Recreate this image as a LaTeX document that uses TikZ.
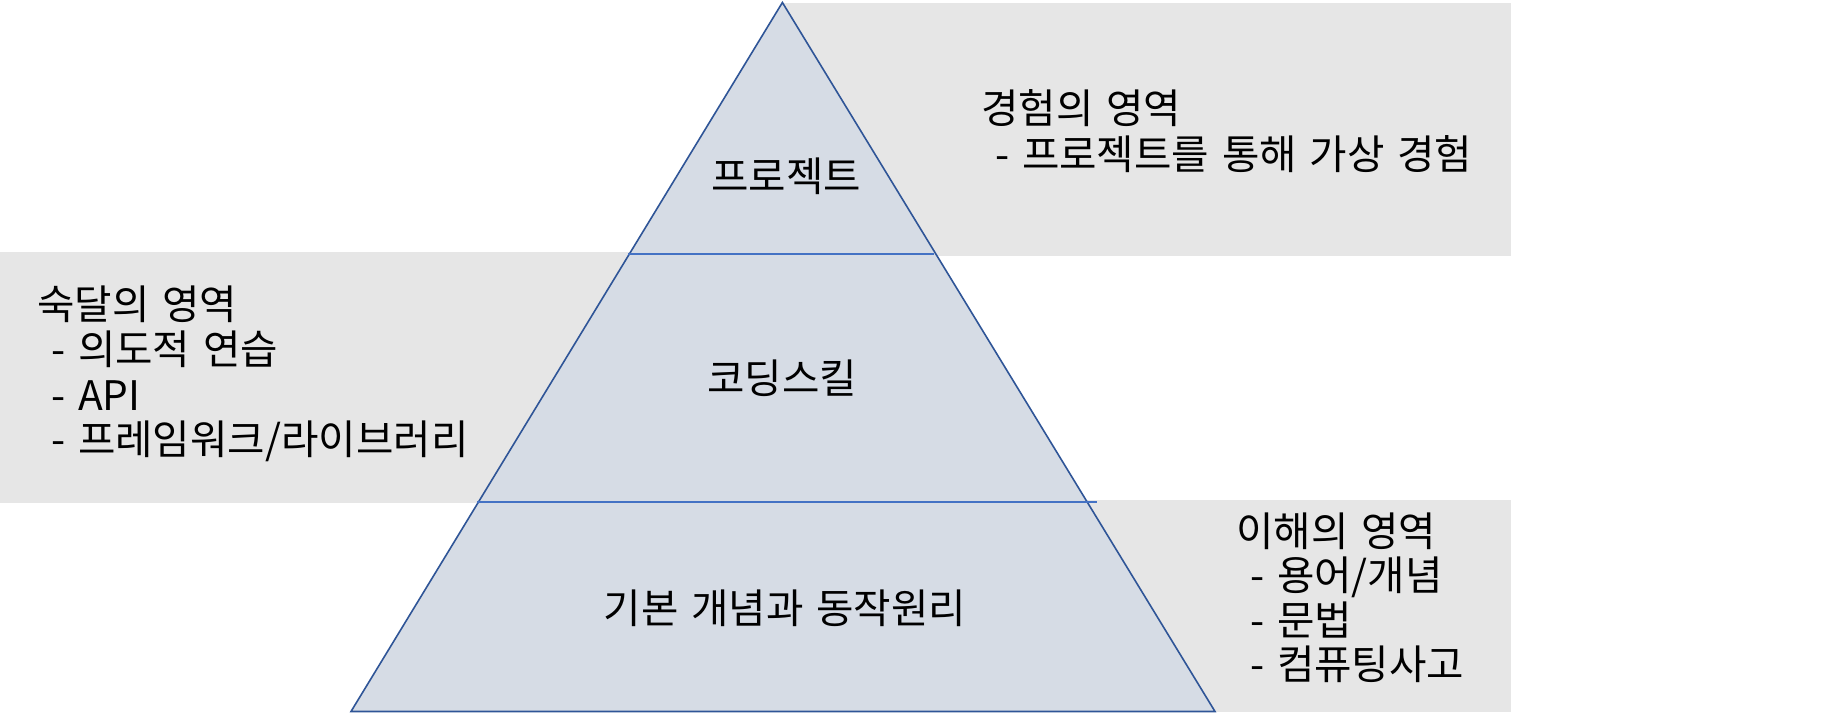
\documentclass[tikz,border=0pt]{standalone}
\usepackage{fontspec}
\setmainfont[WordSpace=1.4]{Noto Sans CJK KR}
\definecolor{boxgray}{HTML}{E6E6E6}
\definecolor{pyrfill}{HTML}{D6DCE5}
\definecolor{pyredge}{HTML}{2F5597}
\definecolor{divline}{HTML}{4472C4}
\begin{document}
\begin{tikzpicture}[x=1pt,y=-1pt,
  band/.style={fill=boxgray,draw=none},
  txt/.style={inner sep=0pt,font=\fontsize{40.7}{45}\selectfont,text=black},
  ltxt/.style={txt,anchor=base west}]
\useasboundingbox (0,0) rectangle (1823,714);
% gray side bands
\fill[boxgray] (782,3) rectangle (1511,256);
\fill[boxgray] (0,252) rectangle (783,503);
\fill[boxgray] (783,500) rectangle (1511,712);
% pyramid
\coordinate (apex) at (782.4,2.5);
\coordinate (bl) at (351,711.5);
\coordinate (br) at (1215,711.5);
\filldraw[fill=pyrfill,draw=pyredge,line width=1.6pt,line join=miter] (apex) -- (br) -- (bl) -- cycle;
\coordinate (d1l) at (628,254);
\coordinate (d1r) at (934,254);
\coordinate (d2l) at (477,502);
\coordinate (d2r) at (1097,502);
\draw[divline,line width=1.2pt] (d1l) -- (d1r);
\draw[divline,line width=1.2pt] (d2l) -- (d2r);
% pyramid labels
\node[txt] (top) at (786,176) {프로젝트};
\node[txt] (mid) at (782,378) {코딩스킬};
\node[txt] (bot) at (785,608) {기본 개념과 동작원리};
% right top text
\node[ltxt] (exp1) at (981,124) {경험의 영역};
\node[ltxt] (exp2) at (995,170) {- 프로젝트를 통해 가상 경험};
% left text
\node[ltxt] (mas1) at (37,319) {숙달의 영역};
\node[ltxt] (mas2) at (51,364) {- 의도적 연습};
\node[ltxt] (mas3) at (51,410) {- API};
\node[ltxt] (mas4) at (51,454) {- 프레임워크/라이브러리};
% bottom right text
\node[ltxt] (und1) at (1236,546) {이해의 영역};
\node[ltxt] (und2) at (1250,590) {- 용어/개념};
\node[ltxt] (und3) at (1250,635) {- 문법};
\node[ltxt] (und4) at (1250,679) {- 컴퓨팅사고};
\end{tikzpicture}
\end{document}
